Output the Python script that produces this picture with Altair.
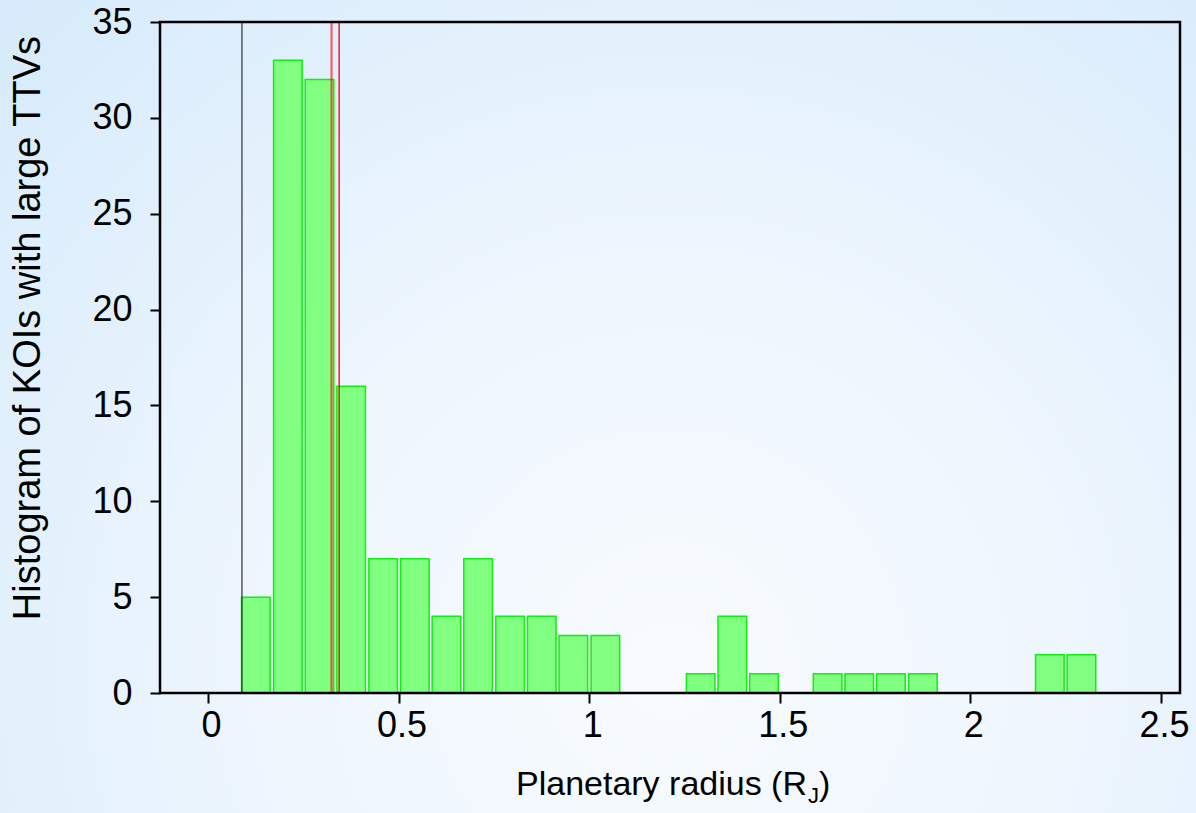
import altair as alt
import pandas as pd

# Histogram bins (left edge in R_J) and counts
bin_left = [0.088, 0.172, 0.255, 0.338, 0.422, 0.505, 0.588, 0.671, 0.755, 0.838,
            0.921, 1.005, 1.255, 1.338, 1.421, 1.588, 1.671, 1.754, 1.838,
            2.171, 2.254]
counts = [5, 33, 32, 16, 7, 7, 4, 7, 4, 4,
          3, 3, 1, 4, 1, 1, 1, 1, 1,
          2, 2]
bar_width = 0.075  # drawn width of each bar (90% of the 0.083 bin)

# vertical reference lines
line_black = [0.089]
line_red_soft = [0.324]
line_red = [0.344]

x_ticks = [0, 0.5, 1, 1.5, 2, 2.5]
y_ticks = [0, 5, 10, 15, 20, 25, 30, 35]

W, H = 1020, 671
FONT = "Liberation Sans"

bars_df = pd.DataFrame({"left": bin_left, "count": counts})
bars_df["right"] = bars_df["left"] + bar_width

xscale = alt.Scale(domain=[-0.126, 2.55], nice=False, zero=False)
yscale = alt.Scale(domain=[0, 35], nice=False)

common_axis = dict(zindex=2, domain=False, grid=False, tickColor="black", tickWidth=2,
                   labelColor="black", labelFont=FONT, labelFlush=False,
                   labelFontSize=36, tickSize=10, title=None)
xaxis = alt.Axis(values=x_ticks, format="~g", labelPadding=5, labelOffset=3, **common_axis)
yaxis = alt.Axis(values=y_ticks, format="d", labelPadding=18, **common_axis)

one = pd.DataFrame({"a": [0]})

background = alt.Chart(one).mark_rect(
    fill=alt.RadialGradient(
        gradient="radial",
        x1=0.56, y1=0.72, r1=0.0,
        x2=0.56, y2=0.72, r2=0.85,
        stops=[alt.GradientStop(color="#f8fbff", offset=0),
               alt.GradientStop(color="#eef6fe", offset=0.4),
               alt.GradientStop(color="#d3e9fb", offset=1)],
    ),
    stroke=None,
).encode(
    x=alt.value(-160), x2=alt.value(1036), y=alt.value(-22), y2=alt.value(791)
)

bars = alt.Chart(bars_df).mark_rect(
    fill="#80ff80", stroke="#11ee11", strokeWidth=1.5
).encode(
    x=alt.X("left:Q", scale=xscale, axis=xaxis),
    x2="right:Q",
    y=alt.Y("count:Q", scale=yscale, axis=yaxis),
    y2=alt.datum(0),
)

rule_black = alt.Chart(pd.DataFrame({"v": line_black})).mark_rule(
    color="#222222", strokeWidth=1.5, opacity=0.75
).encode(x=alt.X("v:Q", scale=xscale, axis=xaxis))

rule_red_soft = alt.Chart(pd.DataFrame({"v": line_red_soft})).mark_rule(
    color="#ff0000", strokeWidth=2.2, opacity=0.6
).encode(x=alt.X("v:Q", scale=xscale, axis=xaxis))

rule_red = alt.Chart(pd.DataFrame({"v": line_red})).mark_rule(
    color="#ee0000", strokeWidth=1.3
).encode(x=alt.X("v:Q", scale=xscale, axis=xaxis))

frame = alt.Chart(one).mark_rect(
    fill=None, fillOpacity=0, stroke="black", strokeWidth=2.5
).encode(x=alt.value(0), x2=alt.value(W), y=alt.value(0), y2=alt.value(H))

# x-axis title with subscript J
xt_main = alt.Chart(one).mark_text(
    text="Planetary radius (R", font=FONT, fontSize=34, align="right",
    baseline="alphabetic", color="black"
).encode(x=alt.value(647), y=alt.value(773))
xt_sub = alt.Chart(one).mark_text(
    text="J", font=FONT, fontSize=22, align="left",
    baseline="alphabetic", color="black"
).encode(x=alt.value(648), y=alt.value(781))
xt_close = alt.Chart(one).mark_text(
    text=")", font=FONT, fontSize=34, align="left",
    baseline="alphabetic", color="black"
).encode(x=alt.value(659), y=alt.value(773))

yt = alt.Chart(one).mark_text(
    text="Histogram of KOIs with large TTVs", font=FONT, fontSize=38,
    angle=270, align="center", baseline="middle", color="black"
).encode(x=alt.value(-131), y=alt.value(306))

chart = alt.layer(
    background, bars, rule_black, rule_red_soft, rule_red, frame,
    xt_main, xt_sub, xt_close, yt
).properties(
    width=W, height=H,
    padding={"left": 160, "top": 22, "right": 16, "bottom": 120},
    autosize=alt.AutoSizeParams(type="none"),
    background="#e8f3fd",
).configure_view(
    stroke=None
)

chart.save("out.html", embed_options={"renderer": "svg", "actions": False})
